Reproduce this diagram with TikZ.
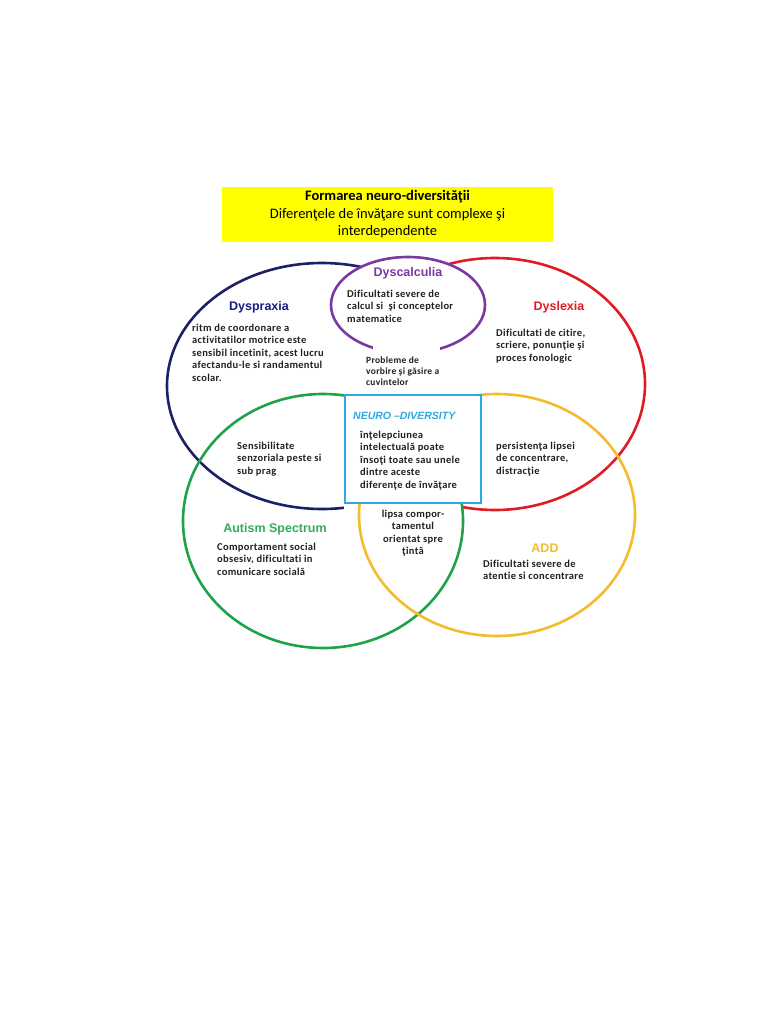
\documentclass[tikz,border=0pt]{standalone}
\usepackage{fontspec}
\setmainfont[Ligatures=NoCommon]{Carlito}
\newfontfamily\arialfont{Liberation Sans}
\newfontfamily\bodyfont[LetterSpace=3, Ligatures=NoCommon]{Carlito}
\usetikzlibrary{positioning}
\definecolor{dspblue}{HTML}{1C2067}
\definecolor{dscpurple}{HTML}{7A37A6}
\definecolor{dsxred}{HTML}{E11B22}
\definecolor{autgreen}{HTML}{1FA24A}
\definecolor{addgold}{HTML}{F4BC2C}
\definecolor{ndblue}{HTML}{2CA9E1}
\definecolor{ttlyellow}{HTML}{FFFF00}
\definecolor{txtdark}{HTML}{231F20}

\begin{document}
\begin{tikzpicture}[x=1pt, y=-1pt,
   ring/.style={line width=2.6pt},
   head/.style={font=\arialfont\bfseries\fontsize{12.5}{14}\selectfont, inner sep=0pt},
   body/.style={font=\bodyfont\bfseries\fontsize{10.5}{12.5}\selectfont, text=txtdark,
                align=left, anchor=north west, inner sep=0pt}]
  \useasboundingbox (0,0) rectangle (768,1024);
  % heading
  \node[fill=ttlyellow, minimum width=331, minimum height=55, align=center,
        inner sep=0pt, font=\fontsize{14.5}{17.5}\selectfont] (title) at (387.5,214.5)
       {\textbf{Formarea neuro-diversităţii}\\Diferenţele de învăţare sunt complexe şi\\interdependente};
  % rings
  \draw[ring, dspblue] (322,386) ellipse [x radius=155, y radius=123];
  \draw[ring, dsxred] (495,384) ellipse [x radius=150, y radius=126];
  \fill[white] (341,300) rectangle (482,394);
  \fill[white] (344,503) rectangle (462,514);
  \draw[ring, autgreen] (323,521) ellipse [x radius=140, y radius=127];
  \draw[ring, addgold] (497,515) ellipse [x radius=138, y radius=121];
  \draw[ring, dscpurple, fill=white] (408,305) ellipse [x radius=77, y radius=48];
  \node[draw=ndblue, line width=2.6pt, fill=white, minimum width=136,
        minimum height=108] (ndbox) at (413,449) {};
  \fill[white] (373,344) rectangle (440,357);
  % ring headings
  \node[head, text=dspblue!85!blue] (dyspraxia) at (259,307) {Dyspraxia};
  \node[head, text=dscpurple] (dyscalculia) at (408,273) {Dyscalculia};
  \node[head, text=dsxred] (dyslexia) at (559,307) {Dyslexia};
  \node[head, text=autgreen!90!white] (autism) at (275,529) {Autism Spectrum};
  \node[head, text=addgold] (add) at (545,548) {ADD};
  \node[head, text=ndblue, font=\arialfont\bfseries\itshape\fontsize{10.5}{12}\selectfont,
        anchor=west] (nd) at (353,416) {NEURO –DIVERSITY};
  % texts
  \node[body] (dyspraxiatxt) at (192,323.5) {ritm de coordonare a\\activitatilor motrice este\\sensibil incetinit, acest lucru\\afectandu-le si randamentul\\scolar.};
  \node[body] (dyscalculiatxt) at (347,289.5) {Dificultati severe de\\calcul si~ şi conceptelor\\matematice};
  \node[body] (dyslexiatxt) at (496,328.5) {Dificultati de citire,\\scriere, ponunţie şi\\proces fonologic};
  \node[body, font=\bodyfont\bfseries\fontsize{9.5}{11.3}\selectfont] (speech) at (366,356.5) {Probleme de\\vorbire şi găsire a\\cuvintelor};
  \node[body] (ndtxt) at (360,430.5) {înţelepciunea\\intelectuală poate\\însoţi toate sau unele\\dintre aceste\\diferenţe de învăţare};
  \node[body] (sensory) at (237,441.5) {Sensibilitate\\senzoriala peste si\\sub prag};
  \node[body] (attention) at (496,441.5) {persistenţa lipsei\\de concentrare,\\distracţie};
  \node[body, align=center, anchor=north] (goal) at (413,509.5) {lipsa compor-\\tamentul\\orientat spre\\ţintă};
  \node[body] (autismtxt) at (217,542.5) {Comportament social\\obsesiv, dificultati in\\comunicare socială};
  \node[body] (addtxt) at (483,559.5) {Dificultati severe de\\atentie si concentrare};
\end{tikzpicture}
\end{document}
